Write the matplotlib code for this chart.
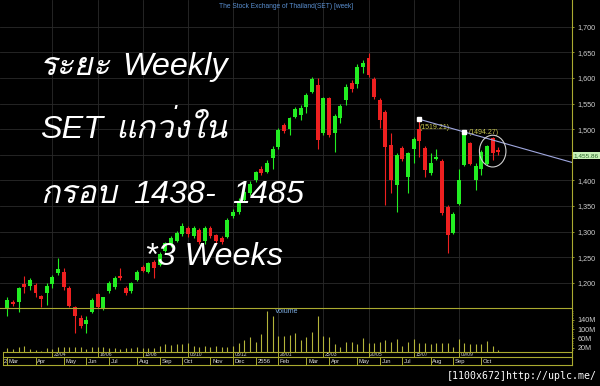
import matplotlib
matplotlib.use('Agg')
import matplotlib.pyplot as plt
from matplotlib import font_manager
from matplotlib.lines import Line2D
from matplotlib.patches import Ellipse

# SET index, weekly candles (27 Feb 2012 .. 28 Oct 2013), volume in millions
opens = [1150, 1163, 1163, 1197, 1193, 1195, 1174, 1179, 1197, 1218,
         1221, 1190, 1152, 1132, 1119, 1143, 1178, 1150, 1184, 1191,
         1213, 1190, 1183, 1205, 1230, 1221, 1241, 1235, 1261, 1273,
         1282, 1295, 1307, 1291, 1303, 1282, 1306, 1293, 1287, 1289,
         1330, 1339, 1361, 1375, 1401, 1423, 1417, 1443, 1466, 1508,
         1501, 1524, 1528, 1544, 1573, 1586, 1492, 1560, 1492, 1521,
         1557, 1591, 1589, 1622, 1638, 1597, 1557, 1534, 1469, 1391,
         1464, 1407, 1462, 1500, 1464, 1415, 1442, 1438, 1348, 1298,
         1354, 1430, 1472, 1401, 1423, 1432, 1482, 1459]
highs = [1173, 1166, 1192, 1213, 1209, 1200, 1176, 1200, 1215, 1248,
         1229, 1193, 1155, 1137, 1134, 1170, 1180, 1173, 1203, 1213,
         1229, 1193, 1202, 1225, 1235, 1241, 1244, 1260, 1280, 1291,
         1301, 1316, 1311, 1311, 1306, 1311, 1311, 1296, 1291, 1326,
         1344, 1365, 1384, 1398, 1419, 1427, 1440, 1467, 1502, 1511,
         1524, 1544, 1547, 1570, 1601, 1599, 1563, 1563, 1529, 1549,
         1589, 1596, 1628, 1635, 1649, 1601, 1560, 1537, 1492, 1453,
         1467, 1456, 1485, 1519.21, 1467, 1453, 1462, 1441, 1352, 1339,
         1423, 1494.27, 1475, 1433, 1459, 1469, 1485, 1466]
lows = [1134, 1155, 1143, 1180, 1186, 1173, 1153, 1157, 1190, 1215,
        1186, 1152, 1102, 1112, 1102, 1141, 1150, 1147, 1180, 1188,
        1205, 1176, 1179, 1203, 1220, 1218, 1209, 1233, 1259, 1270,
        1280, 1292, 1290, 1287, 1276, 1276, 1287, 1276, 1276, 1287,
        1326, 1335, 1358, 1371, 1397, 1410, 1414, 1423, 1462, 1492,
        1488, 1521, 1518, 1531, 1570, 1462, 1488, 1485, 1456, 1511,
        1547, 1573, 1580, 1609, 1602, 1558, 1502, 1352, 1375, 1338,
        1438, 1375, 1433, 1446, 1407, 1410, 1440, 1332, 1258, 1296,
        1352, 1428, 1430, 1381, 1410, 1429, 1440, 1450]
closes = [1166, 1158, 1189, 1192, 1205, 1180, 1168, 1194, 1212, 1227,
          1191, 1155, 1134, 1115, 1127, 1166, 1152, 1172, 1200, 1210,
          1209, 1179, 1200, 1220, 1223, 1238, 1228, 1257, 1277, 1287,
          1298, 1311, 1296, 1307, 1280, 1306, 1291, 1282, 1280, 1322,
          1339, 1358, 1378, 1393, 1416, 1414, 1434, 1462, 1498, 1497,
          1521, 1539, 1541, 1567, 1597, 1479, 1560, 1488, 1526, 1545,
          1583, 1578, 1622, 1630, 1606, 1562, 1517, 1466, 1401, 1449,
          1441, 1453, 1480, 1477, 1420, 1434, 1446, 1336, 1293, 1335,
          1401, 1490, 1432, 1427, 1456, 1467, 1453, 1455.86]
volumes = [20, 14, 24, 27, 14, 8, 7, 17, 13, 24,
           22, 24, 22, 24, 14, 24, 22, 24, 17, 17,
           14, 17, 17, 24, 17, 20, 20, 29, 35, 32,
           36, 36, 42, 29, 24, 29, 24, 29, 24, 24,
           29, 42, 53, 65, 46, 79, 179, 157, 70, 72,
           75, 82, 53, 65, 86, 157, 70, 68, 36, 24,
           46, 46, 36, 60, 42, 42, 46, 53, 46, 56,
           29, 46, 56, 42, 42, 35, 39, 42, 39, 24,
           56, 42, 36, 36, 36, 50, 27, 10]

period_labels = ['23/04', '18/06', '13/08', '08/10', '03/12',
                 '28/01', '25/03', '20/05', '15/07', '09/09']
period_starts = [8, 16, 24, 32, 40, 48, 56, 64, 72, 80]
month_labels = ['Mar', 'Apr', 'May', 'Jun', 'Jul', 'Aug', 'Sep', 'Oct', 'Nov', 'Dec',
                '2556', 'Feb', 'Mar', 'Apr', 'May', 'Jun', 'Jul', 'Aug', 'Sep', 'Oct']
month_starts = [0, 5, 10, 14, 18, 23, 27, 31, 36, 40,
                44, 48, 53, 57, 62, 66, 70, 75, 79, 84]

price_ticks = [1200, 1250, 1300, 1350, 1400, 1450, 1500, 1550, 1600, 1650, 1700]
volume_ticks = [20, 60, 100, 140]

trend_idx = [73, 81]
trend_price = [1519.21, 1494.27]
last_close = 1455.86

title = 'The Stock Exchange of Thailand(SET) [week]'
overlay_lines = [('ระยะ', 40, 75), ('Weekly', 122, 75),
                 ('SET', 40, 138), ('แกว่งใน', 115, 138),
                 ('กรอบ', 40, 203), ('1438-', 133, 203), ('1485', 232, 203),
                 ('*3 Weeks', 145, 265)]

# ---- layout (pixels) ----
W, H = 600, 386
CHART_RIGHT = 572
X0, STEP = 7.3, 5.644
P_REF, P_REF_Y, PX_PER_PT = 1700, 26.7, 0.512
VOL_TOP, VOL_BOTTOM, PX_PER_M = 308, 352.3, 0.231
DATE_MID, DATE_BOTTOM = 357.3, 365

GREEN, RED = '#22ee22', '#ee2020'
FRAME = '#aaaa30'
GRID = '#2a2a2a'
SMALL = 'Liberation Sans'


def find_thai_family():
    for entry in font_manager.fontManager.ttflist:
        try:
            cmap = font_manager.get_font(entry.fname).get_charmap()
        except Exception:
            continue
        if 0x0E23 in cmap and 0x0E41 in cmap:
            return entry.name
    return None


thai = find_thai_family()
big_family = ['Liberation Sans'] + ([thai] if thai else []) + ['DejaVu Sans']


def fig_box(x0, y0, x1, y1):
    return [x0 / W, 1 - y1 / H, (x1 - x0) / W, (y1 - y0) / H]


def fig_line(x0, y0, x1, y1):
    fig.add_artist(Line2D([x0 / W, x1 / W], [1 - y0 / H, 1 - y1 / H],
                          transform=fig.transFigure, color=FRAME, lw=0.8))


fig = plt.figure(figsize=(W / 100, H / 100), dpi=100, facecolor='black')
xlim = (-X0 / STEP, (CHART_RIGHT - X0) / STEP)

# price pane (runs down under the volume pane, like the original)
ax = fig.add_axes(fig_box(0, 0, CHART_RIGHT, VOL_BOTTOM))
ax.set_facecolor('black')
ax.set_xlim(*xlim)
ax.set_ylim(P_REF - (VOL_BOTTOM - P_REF_Y) / PX_PER_PT, P_REF + P_REF_Y / PX_PER_PT)
for s in ax.spines.values():
    s.set_visible(False)
ax.yaxis.tick_right()
ax.set_yticks(price_ticks)
# the last-price tag sits over the nearest tick label
ax.set_yticklabels(['' if abs(t - last_close) < 15 else '{:,}'.format(t) for t in price_ticks])
ax.tick_params(axis='y', colors=FRAME, labelcolor='#cfcfcf', length=1.5, width=0.6,
               pad=2.5, labelsize=5.2)
for lab in ax.get_yticklabels():
    lab.set_family(SMALL)
ax.set_xticks([])
for t in price_ticks:
    ax.axhline(t, color=GRID, lw=0.6, zorder=0)
for p in period_starts:
    ax.axvline(p, color=GRID, lw=0.6, zorder=0)

idx = list(range(len(closes)))
colors = [GREEN if c >= o else RED for o, c in zip(opens, closes)]
ax.vlines(idx, lows, highs, colors=colors, lw=0.8, zorder=2)
bottoms = [min(o, c) for o, c in zip(opens, closes)]
heights = [max(abs(c - o), 2) for o, c in zip(opens, closes)]
ax.bar(idx, heights, bottom=bottoms, width=0.7, color=colors, lw=0, zorder=3)

# trend line through the two lower highs
slope = (trend_price[1] - trend_price[0]) / (trend_idx[1] - trend_idx[0])
x_end = xlim[1]
ax.plot([trend_idx[0], x_end],
        [trend_price[0], trend_price[0] + slope * (x_end - trend_idx[0])],
        color='#a0a8e0', lw=0.8, zorder=4)
ax.plot(trend_idx, trend_price, 's', color='white', ms=2.2, zorder=5)
ax.annotate('({:.2f})'.format(trend_price[0]), (trend_idx[0], trend_price[0]),
            xytext=(0.5, -6.2), textcoords='offset points', color='#c8c850',
            fontsize=5, family=SMALL, ha='left', va='center')
ax.annotate('({:.2f})'.format(trend_price[1]), (trend_idx[1], trend_price[1]),
            xytext=(3.2, 0), textcoords='offset points', color='#c8c850',
            fontsize=5, family=SMALL, ha='left', va='center')

# circle round the last three weeks
last3 = idx[-3:]
lo3, hi3 = min(lows[-3:]), max(highs[-3:])
ax.add_patch(Ellipse((sum(last3) / 3, (lo3 + hi3) / 2), 4.7, hi3 - lo3 + 6,
                     fill=False, edgecolor='#d0d0d0', lw=0.8, zorder=6))

# last price tag
ax.annotate('{:,.2f}'.format(last_close), (xlim[1], last_close),
            xytext=(1.0, -2.6), textcoords='offset points', color='#2a6a2a',
            fontsize=4.6, family=SMALL, ha='left', va='center', annotation_clip=False,
            bbox=dict(boxstyle='square,pad=0.2', fc='#c8f0b8', ec='none'))

# volume pane
axv = fig.add_axes(fig_box(0, VOL_TOP, CHART_RIGHT, VOL_BOTTOM))
axv.patch.set_alpha(0)
axv.set_xlim(*xlim)
axv.set_ylim(0, (VOL_BOTTOM - VOL_TOP) / PX_PER_M)
for s in axv.spines.values():
    s.set_visible(False)
axv.yaxis.tick_right()
axv.set_yticks(volume_ticks)
axv.set_yticklabels(['{}M'.format(v) for v in volume_ticks])
axv.set_yticks(range(10, 190, 10), minor=True)
axv.tick_params(axis='y', colors=FRAME, labelcolor='#cfcfcf', length=1.5, width=0.6,
                pad=2.5, labelsize=5.2)
axv.tick_params(axis='y', which='minor', colors=FRAME, length=1, width=0.5)
for lab in axv.get_yticklabels():
    lab.set_family(SMALL)
axv.set_xticks([])
axv.vlines(idx, 0, volumes, colors='#b4b43a', lw=0.8)
axv.text(47.5, 177, 'Volume', color='#7fb0e6', fontsize=5, family=SMALL,
         ha='left', va='center')

# date strip
axd = fig.add_axes(fig_box(0, VOL_BOTTOM, CHART_RIGHT, DATE_BOTTOM))
axd.patch.set_alpha(0)
axd.set_xlim(*xlim)
axd.set_ylim(DATE_BOTTOM, VOL_BOTTOM)
axd.axis('off')
left_edge = (2.7 - X0) / STEP
axd.vlines([left_edge] + period_starts, VOL_BOTTOM, DATE_MID, colors=FRAME, lw=0.7)
axd.vlines([left_edge] + month_starts, DATE_MID, DATE_BOTTOM, colors=FRAME, lw=0.7)
for p, lab in zip(period_starts, period_labels):
    axd.text(p + 0.3, (VOL_BOTTOM + DATE_MID) / 2 + 0.2, lab, color='#d0d0d0',
             fontsize=3.6, family=SMALL, ha='left', va='center')
for m, lab in zip(month_starts, month_labels):
    axd.text(m + 0.3, (DATE_MID + DATE_BOTTOM) / 2, lab, color='#e0e0e0',
             fontsize=4.2, family=SMALL, ha='left', va='center')
axd.text(left_edge + 0.2, (DATE_MID + DATE_BOTTOM) / 2, '2', color='#e0e0e0',
         fontsize=4.2, family=SMALL, ha='left', va='center')

# frame lines
fig_line(CHART_RIGHT, 0, CHART_RIGHT, DATE_BOTTOM)
fig_line(0, VOL_TOP, CHART_RIGHT, VOL_TOP)
fig_line(2.7, VOL_BOTTOM, CHART_RIGHT, VOL_BOTTOM)
fig_line(2.7, DATE_MID, CHART_RIGHT, DATE_MID)
fig_line(2.7, DATE_BOTTOM, CHART_RIGHT, DATE_BOTTOM)

fig.text(286 / W, 1 - 6 / H, title, color='#5a8fd0', fontsize=4.8, family=SMALL,
         ha='center', va='center')

for s, x, y in overlay_lines:
    fig.text(x / W, 1 - y / H, s, color='white', fontsize=23.3, style='italic',
             family=big_family, ha='left', va='baseline', zorder=10)

fig.text(597 / W, 1 - 376 / H, '[1100x672]http://uplc.me/', color='white',
         fontsize=7.1, family='DejaVu Sans Mono', ha='right', va='center')

fig.savefig('out.png', dpi=100, facecolor='black')
